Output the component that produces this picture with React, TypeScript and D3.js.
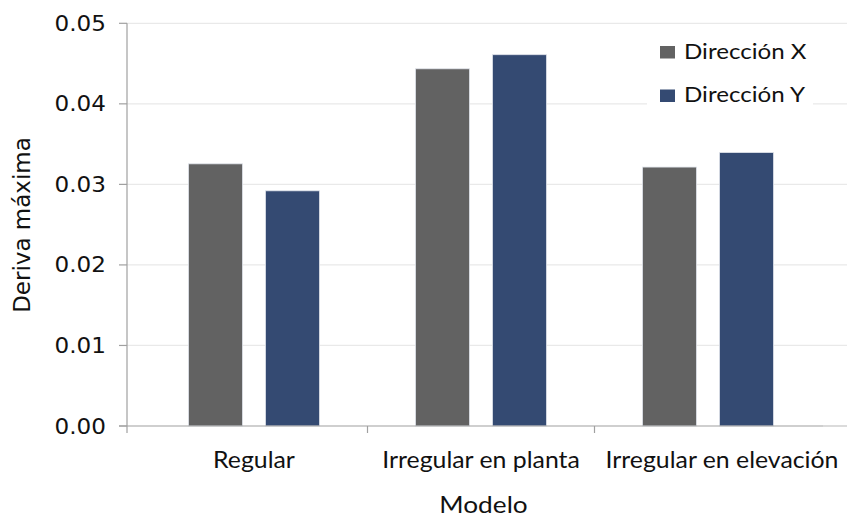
import React from "react";
import * as d3 from "d3";

const categories = ["Regular", "Irregular en planta", "Irregular en elevación"];
const series = ["Dirección X", "Dirección Y"];
const direccionX = [0.03255, 0.04435, 0.03215];
const direccionY = [0.0292, 0.0461, 0.03395];
const yTicks = [0, 0.01, 0.02, 0.03, 0.04, 0.05];
const colors = ["#626262", "#344a72"];

const W = 847;
const H = 517;
const left = 127;
const right = 823;
const top = 23.3;
const bottom = 426;

function SText(props: {
  x: number;
  y: number;
  sx: number;
  size: number;
  family: string;
  anchor?: string;
  dy?: string;
  rotate?: number;
  children: React.ReactNode;
}) {
  const { x, y, sx, size, family, anchor = "start", dy, rotate = 0, children } = props;
  return (
    <text
      transform={`translate(${x},${y}) rotate(${rotate}) scale(${sx},1)`}
      textAnchor={anchor}
      dy={dy}
      fontFamily={family}
      fontSize={size}
      fill="#111"
    >
      {children}
    </text>
  );
}

export default function App() {
  const y = d3.scaleLinear().domain([0, 0.05]).range([bottom, top]);
  const x = d3.scaleBand<string>().domain(categories).range([140.5, 821.5]).padding(0);
  const labelShift = d3.scaleOrdinal<string, number>().domain(categories).range([0, 0, 14]);
  const inner = d3.scaleBand<string>().domain(series).range([-65.5, 65.5]).paddingInner(23 / 77).paddingOuter(0);
  const values = [direccionX, direccionY];
  const center = (c: string) => (x(c) as number) + x.bandwidth() / 2;

  return (
    <svg width={W} height={H} style={{ position: "absolute", left: 0, top: 0, background: "#fff" }}>
      <rect x={0} y={0} width={W} height={H} fill="#fff" />
      {yTicks.filter((t) => t > 0).map((t) => (
        <line key={"g" + t} x1={left} x2={W} y1={y(t)} y2={y(t)} stroke="#e9e9e9" strokeWidth={1.2} />
      ))}
      {categories.map((c, i) =>
        series.map((s, j) => {
          const v = values[j][i];
          return (
            <rect
              key={c + s}
              x={center(c) + (inner(s) as number)}
              y={y(v)}
              width={inner.bandwidth()}
              height={bottom - y(v)}
              fill={colors[j]}
              stroke="#dfe3ea"
              strokeWidth={0.8}
            />
          );
        })
      )}
      <line x1={left} x2={left} y1={top} y2={bottom} stroke="#a0a0a0" strokeWidth={1.2} />
      <line x1={119} x2={right} y1={bottom} y2={bottom} stroke="#a0a0a0" strokeWidth={1.2} />
      <line x1={right} x2={W} y1={bottom} y2={bottom} stroke="#c4c4c4" strokeWidth={1.2} />
      {yTicks.map((t) => (
        <g key={"t" + t}>
          <line x1={119} x2={left} y1={y(t)} y2={y(t)} stroke="#a0a0a0" strokeWidth={1.2} />
          <SText x={106} y={y(t)} dy="0.36em" anchor="end" family="DejaVu Sans" size={21} sx={1.1}>
            {t.toFixed(2)}
          </SText>
        </g>
      ))}
      {categories.map((c, i) => (
        <line
          key={"xt" + c}
          x1={i === 0 ? left : (x(c) as number)}
          x2={i === 0 ? left : (x(c) as number)}
          y1={bottom}
          y2={bottom + 7}
          stroke="#a0a0a0"
          strokeWidth={1.2}
        />
      ))}
      {categories.map((c) => (
        <SText key={"xl" + c} x={center(c) + labelShift(c)} y={468} anchor="middle" family="Lato" size={24} sx={1.035}>
          {c}
        </SText>
      ))}
      <SText x={483.5} y={513} anchor="middle" family="Lato" size={23} sx={1.14}>
        Modelo
      </SText>
      <SText x={30} y={225} rotate={-90} anchor="middle" family="DejaVu Sans" size={23} sx={1}>
        Deriva máxima
      </SText>
      <rect x={647} y={32} width={166} height={78} fill="#fff" />
      {series.map((s, j) => (
        <g key={"lg" + s} transform={`translate(660,${46 + j * 43.5})`}>
          <rect x={0} y={0} width={15} height={12.5} fill={colors[j]} />
          <SText x={24} y={12.5} family="Lato" size={21} sx={1.15}>
            {s}
          </SText>
        </g>
      ))}
    </svg>
  );
}
